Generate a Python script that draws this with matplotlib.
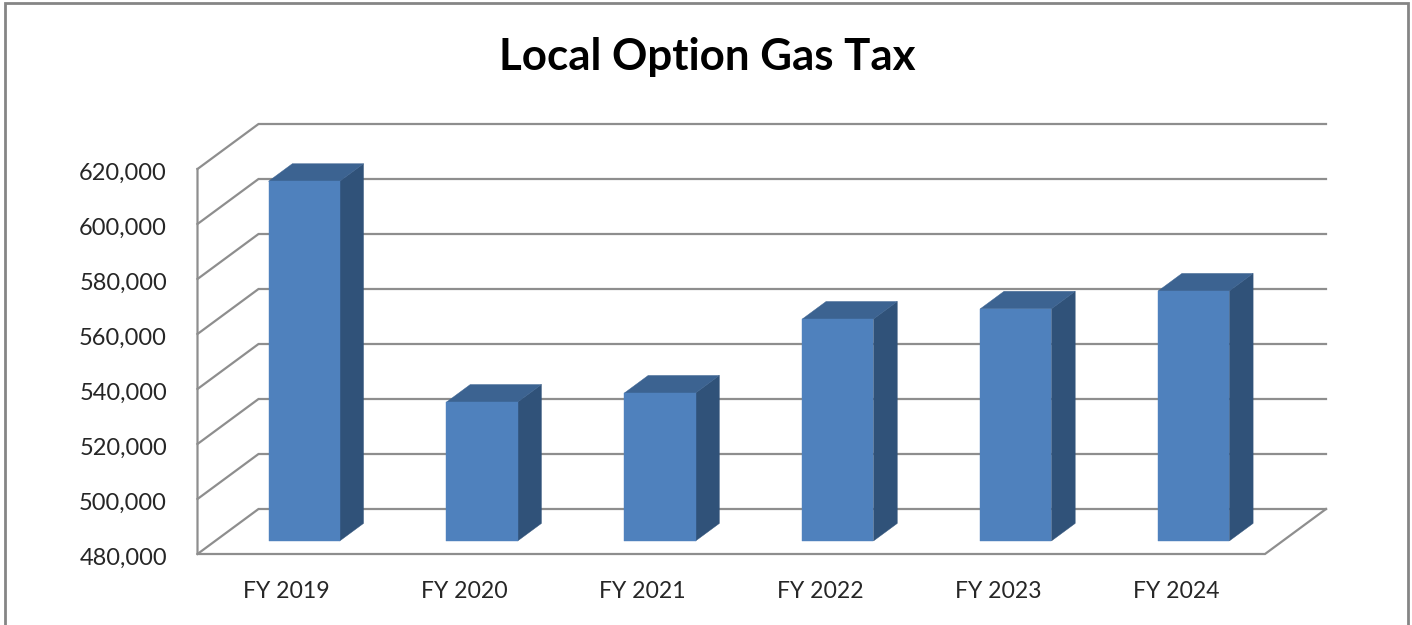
#!/usr/bin/env python3
## Local Option Gas Tax - fake 3D column chart

import matplotlib
matplotlib.use('Agg')
import matplotlib.pyplot as plt
from matplotlib.patches import Polygon, Rectangle
from matplotlib.transforms import Affine2D, IdentityTransform
import numpy as np

plt.rcParams['font.family'] = ['Lato', 'DejaVu Sans']

# Data
categories = ['FY 2019', 'FY 2020', 'FY 2021', 'FY 2022', 'FY 2023', 'FY 2024']
values = [610800, 530500, 533800, 560700, 564400, 570900]
y_ticks = [480000, 500000, 520000, 540000, 560000, 580000, 600000, 620000]
y_labels = ['480,000', '500,000', '520,000', '540,000', '560,000', '580,000', '600,000', '620,000']

W, H = 1412, 625
GRID = '#8e8e8e'
TEXT = '#262626'

# depth of the 3D box in pixels
DX, DY = 61, 45
BAR_START, BAR_END = 0.29, 0.68
BAR_WIDTH = 0.40

fig = plt.figure(figsize=(W / 100, H / 100), dpi=100, facecolor='white')
ax = fig.add_axes([197.5 / W, 1 - 554 / H, (1265 - 197.5) / W, 385 / H])
ax.set_xlim(-0.5, 5.5)
ax.set_ylim(480000, 620000)
ax.patch.set_visible(False)
for s in ax.spines.values():
    s.set_visible(False)


def px(x, v, depth=0.0):
    # data position + depth -> display pixels
    p = ax.transData.transform((x, v))
    return (p[0] + depth * DX, p[1] + depth * DY)


def face(points, color, z):
    ax.add_patch(Polygon(points, closed=True, facecolor=color, edgecolor=color, linewidth=0.3,
                         transform=IdentityTransform(), clip_on=False, zorder=z))


# Walls and gridlines
for t in y_ticks:
    pts = np.array([px(-0.5, t), px(-0.5, t, 1), px(5.5, t, 1)])
    ax.plot(pts[:, 0], pts[:, 1], color=GRID, lw=1.6, transform=IdentityTransform(),
            clip_on=False, zorder=1, solid_joinstyle='miter')

# Left front edge and floor
pts = np.array([px(-0.5, y_ticks[-1]), px(-0.5, y_ticks[0]), px(5.5, y_ticks[0]), px(5.5, y_ticks[0], 1)])
ax.plot(pts[:, 0], pts[:, 1], color=GRID, lw=1.6, transform=IdentityTransform(),
        clip_on=False, zorder=1, solid_joinstyle='miter')

# Bars
base = y_ticks[0]
x_pos = np.arange(len(categories))
shift = ax.transData + Affine2D().translate(BAR_START * DX, BAR_START * DY)
ax.bar(x_pos, np.array(values) - base, bottom=base, width=BAR_WIDTH, color='#4f81bd',
       edgecolor='#4f81bd', linewidth=0.3, transform=shift, zorder=3)
for x, v in zip(x_pos, values):
    l, r = x - BAR_WIDTH / 2, x + BAR_WIDTH / 2
    # side
    face([px(r, base, BAR_START), px(r, v, BAR_START), px(r, v, BAR_END), px(r, base, BAR_END)], '#305279', 2)
    # top
    face([px(l, v, BAR_START), px(r, v, BAR_START), px(r, v, BAR_END), px(l, v, BAR_END)], '#3c6391', 2)

# Axis labels
ax.set_xticks(x_pos)
ax.set_xticklabels(categories, fontsize=16.6, color=TEXT)
ax.set_yticks(y_ticks)
ax.set_yticklabels(y_labels, fontsize=17, color=TEXT)
ax.tick_params(axis='x', length=0, pad=19.5)
ax.tick_params(axis='y', length=0, pad=22)
for lab in ax.get_yticklabels():
    lab.set_transform(lab.get_transform() + Affine2D().translate(0, -2))

# Title
fig.text(707 / W, 1 - 57 / H, 'Local Option Gas Tax', fontsize=31.6, fontweight='bold',
         color='black', ha='center', va='center')

# Outer frame, bottom edge runs off the picture
fig.add_artist(Rectangle((5 / W, -0.05), (1407.5 - 5) / W, 1.05 - 2.5 / H, transform=fig.transFigure,
                         facecolor='none', edgecolor='#858585', linewidth=2))

fig.savefig('out.png', dpi=100, facecolor='white')
